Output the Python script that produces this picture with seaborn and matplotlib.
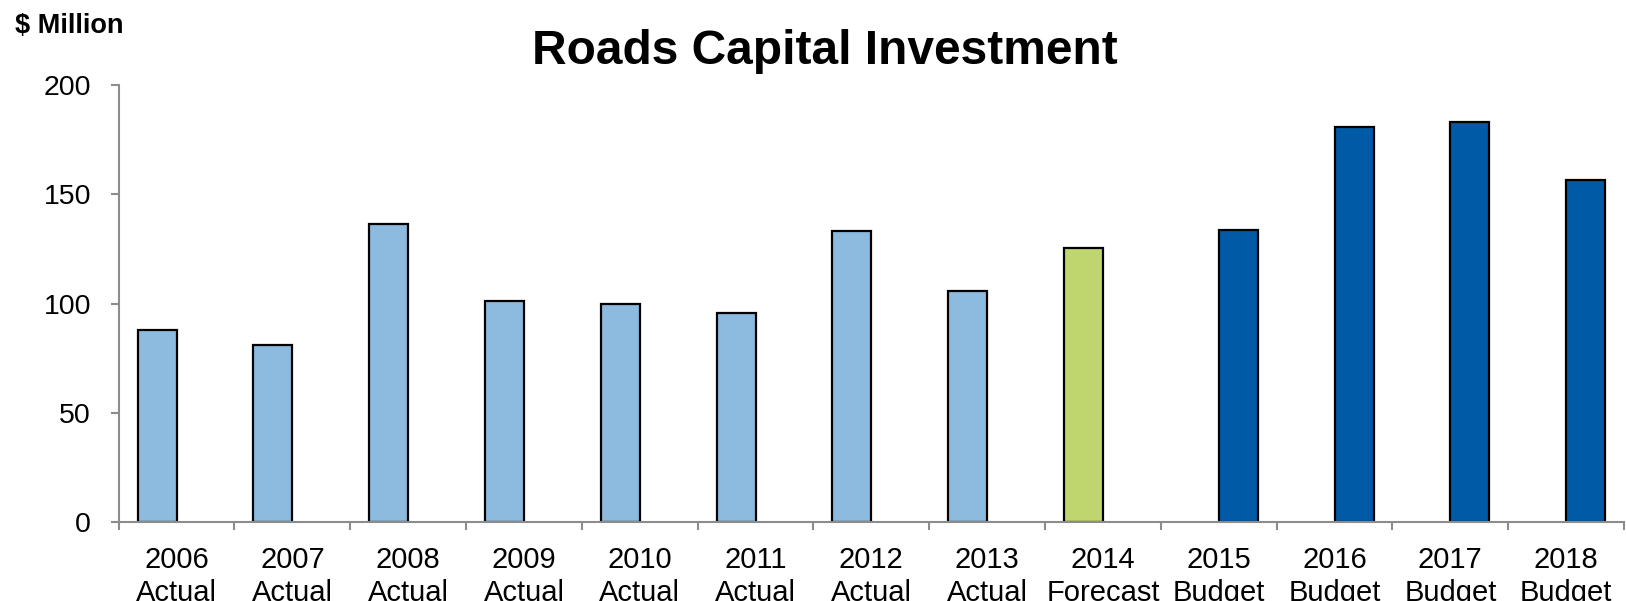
import numpy as np
import pandas as pd
import matplotlib
matplotlib.use("Agg")
import matplotlib.pyplot as plt
import seaborn as sns

# Chart data
years = ["2006", "2007", "2008", "2009", "2010", "2011", "2012",
         "2013", "2014", "2015", "2016", "2017", "2018"]
kinds = ["Actual"] * 8 + ["Forecast"] + ["Budget"] * 4
values = [88, 81, 136.5, 101, 100, 95.6, 133.2, 105.9, 125.3, 133.7, 180.7, 183.2, 156.7]
y_ticks = [0, 50, 100, 150, 200]

colors = {"Actual": "#8DBADF", "Forecast": "#BFD56E", "Budget": "#005AA6"}

labels = [f"{y}\n{k}" for y, k in zip(years, kinds)]
# Actual and forecast share the left slot; budget bars sit in the right slot
slot = ["Budget" if k == "Budget" else "Actual" for k in kinds]
df = pd.DataFrame({"label": labels, "value": values, "slot": slot, "kind": kinds})

sns.set_theme(style="white")
plt.rcParams["font.family"] = ["Liberation Sans", "DejaVu Sans"]
plt.rcParams["text.color"] = "black"
plt.rcParams["xtick.labelcolor"] = "black"
plt.rcParams["ytick.labelcolor"] = "black"

fig = plt.figure(figsize=(16.26, 6.01), dpi=100)
ax = fig.add_axes([0.073, 0.131, 0.9258, 0.7277])

sns.barplot(data=df, x="label", y="value", hue="slot", order=labels,
            hue_order=["Actual", "Budget"],
            palette={"Actual": colors["Actual"], "Budget": colors["Budget"]},
            width=0.674, dodge=True, edgecolor="black", linewidth=1.6,
            legend=False, ax=ax)

# Colour each bar by its kind (forecast differs from actuals)
for level, container in zip(["Actual", "Budget"], ax.containers):
    sub = df[df["slot"] == level]
    for bar, kind in zip(container, sub["kind"]):
        bar.set_facecolor(colors[kind])

ax.set_xlim(-0.5, len(labels) - 0.5)
ax.set_ylim(0, 200)
ax.set_xlabel("")
ax.set_ylabel("")

# Major x ticks mark category boundaries; labels sit on minor ticks at centres
ax.set_xticks(np.arange(-0.5, len(labels), 1.0))
ax.set_xticklabels([])
ax.set_xticks(np.arange(len(labels)), minor=True)
ax.set_xticklabels(labels, minor=True, fontsize=21, linespacing=1.22,
                   color="black")
ax.tick_params(axis="x", which="minor", length=0, pad=17)
ax.tick_params(axis="x", which="major", length=6, width=1.5, color="#8C8C8C",
               direction="out", bottom=True)

ax.set_yticks(y_ticks)
ax.set_yticklabels([str(t) for t in y_ticks], fontsize=20.5, color="black")
ax.tick_params(axis="y", length=6, width=1.5, color="#8C8C8C",
               direction="out", left=True, pad=14)

for side in ["top", "right"]:
    ax.spines[side].set_visible(False)
for side in ["left", "bottom"]:
    ax.spines[side].set_color("#8C8C8C")
    ax.spines[side].set_linewidth(1.5)
ax.grid(False)

fig.text(0.507, 0.893, "Roads Capital Investment", ha="center", va="baseline",
         fontsize=34.5, fontweight="bold", color="black")
fig.text(0.009, 0.945, "$ Million", ha="left", va="baseline",
         fontsize=19.5, fontweight="bold", color="black")

fig.savefig("out.png", dpi=100)
